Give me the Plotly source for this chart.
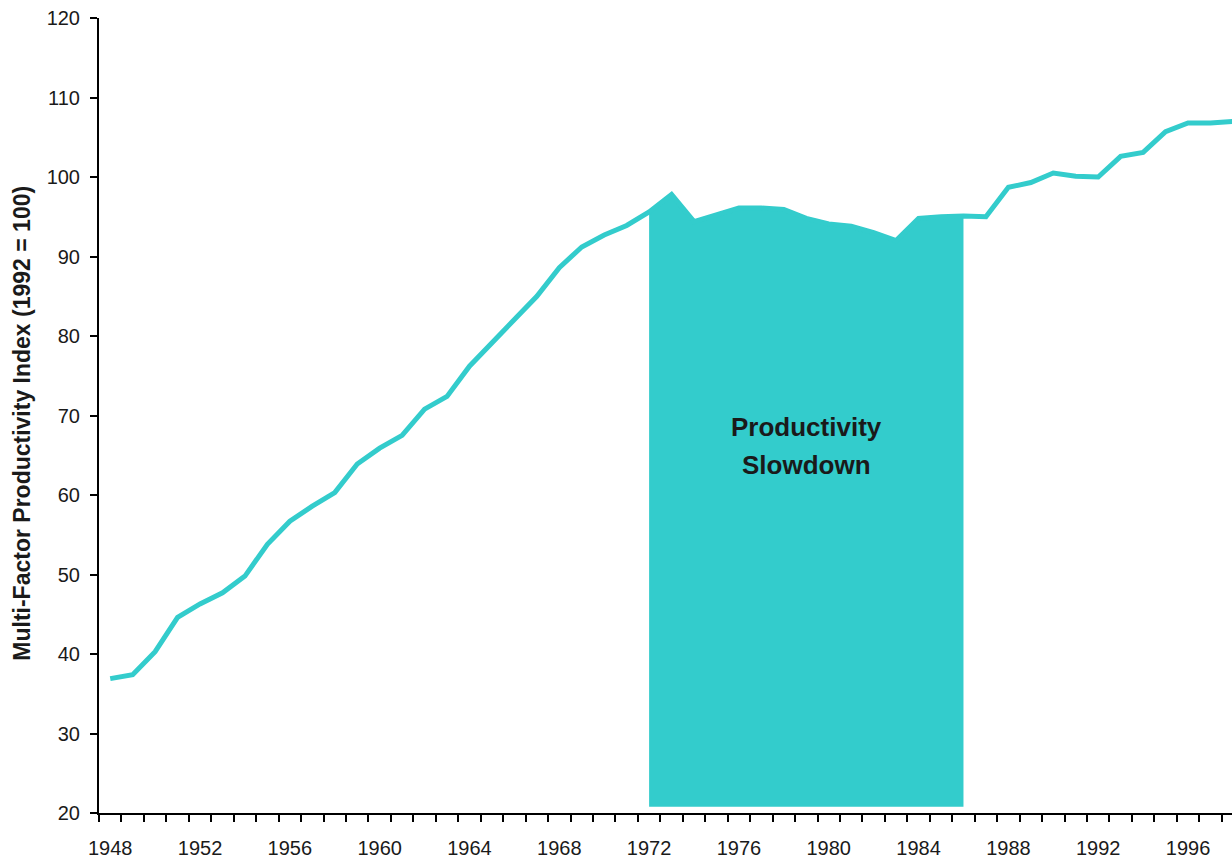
import plotly.graph_objects as go

# ---- data ----
years = list(range(1948, 1999))
mfp_index = [
    36.9, 37.4, 40.3, 44.6, 46.3, 47.7, 49.8, 53.8, 56.7, 58.6,   # 1948-1957
    60.3, 63.9, 65.9, 67.5, 70.8, 72.4, 76.2, 79.2, 82.2, 85.0,   # 1958-1967
    88.6, 91.2, 92.7, 93.9, 95.6, 97.8, 94.4, 95.3, 96.1, 96.1,   # 1968-1977
    95.9, 94.8, 94.1, 93.8, 93.0, 92.0, 94.8, 95.0, 95.1, 95.0,   # 1978-1987
    98.7, 99.3, 100.5, 100.1, 100.0, 102.6, 103.1, 105.7, 106.8, 106.8,  # 1988-1997
    107.0,                                                         # 1998
]
slowdown_start = 1972
slowdown_end = 1986
slowdown_base = 20.8
x_tick_labels = list(range(1948, 1997, 4))
y_tick_values = list(range(20, 121, 10))
y_title = "Multi-Factor Productivity Index (1992 = 100)"
annot_lines = ["Productivity", "Slowdown"]

# ---- style ----
TEAL = "#33CCCC"
TEXT = "#1a1a1a"
FONT = "Liberation Sans, Arial, sans-serif"

# shaded slowdown polygon built from the data
sx = [y for y in years if slowdown_start <= y <= slowdown_end]
sy = [v for y, v in zip(years, mfp_index) if slowdown_start <= y <= slowdown_end]
poly_x = [sx[0]] + sx + [sx[-1]]
poly_y = [slowdown_base] + sy + [slowdown_base]

fig = go.Figure()
fig.add_trace(go.Scatter(
    x=poly_x, y=poly_y, mode="lines", fill="toself",
    fillcolor=TEAL, line=dict(width=0, color=TEAL),
    hoverinfo="skip", showlegend=False,
))
fig.add_trace(go.Scatter(
    x=years, y=mfp_index, mode="lines",
    line=dict(color=TEAL, width=5),
    showlegend=False,
))

W, H = 1232, 859
ML, MT, MB = 99, 18, 46
px_per_year = 22.454
x_lo = 1947.5
x_hi = x_lo + (W - ML) / px_per_year

fig.update_layout(
    width=W, height=H,
    margin=dict(l=ML, r=0, t=MT, b=MB),
    paper_bgcolor="white", plot_bgcolor="white",
    font=dict(family=FONT, color=TEXT),
    xaxis=dict(
        range=[x_lo, x_hi],
        tickmode="array", tickvals=x_tick_labels,
        ticktext=[str(v) for v in x_tick_labels],
        ticks="", showgrid=False, zeroline=False,
        showline=True, linecolor="black", linewidth=2,
        tickfont=dict(size=20, color=TEXT, family=FONT),
        ticklabelstandoff=16,
        minor=dict(tickmode="linear", tick0=1947.5, dtick=1,
                   ticks="outside", ticklen=7, tickwidth=2,
                   tickcolor="black", showgrid=False),
    ),
    yaxis=dict(
        range=[20, 120],
        tickmode="array", tickvals=y_tick_values,
        ticks="outside", ticklen=7, tickwidth=2, tickcolor="black",
        showgrid=False, zeroline=False,
        showline=True, linecolor="black", linewidth=2,
        tickfont=dict(size=20, color=TEXT, family=FONT),
        ticklabelstandoff=6,
    ),
    annotations=[
        dict(text="<b>" + y_title + "</b>", textangle=-90,
             xref="paper", yref="paper", x=0, y=(813.3 - 424) / 795,
             xanchor="center", yanchor="middle", xshift=-77,
             showarrow=False, font=dict(size=23, color=TEXT, family=FONT)),
        dict(text="<b>" + annot_lines[0] + "</b>", xref="x", yref="y",
             x=1979.0, y=68.5, showarrow=False,
             xanchor="center", yanchor="middle",
             font=dict(size=26, color=TEXT, family=FONT)),
        dict(text="<b>" + annot_lines[1] + "</b>", xref="x", yref="y",
             x=1979.0, y=63.8, showarrow=False,
             xanchor="center", yanchor="middle",
             font=dict(size=26, color=TEXT, family=FONT)),
    ],
)

fig.write_html("out.html")
